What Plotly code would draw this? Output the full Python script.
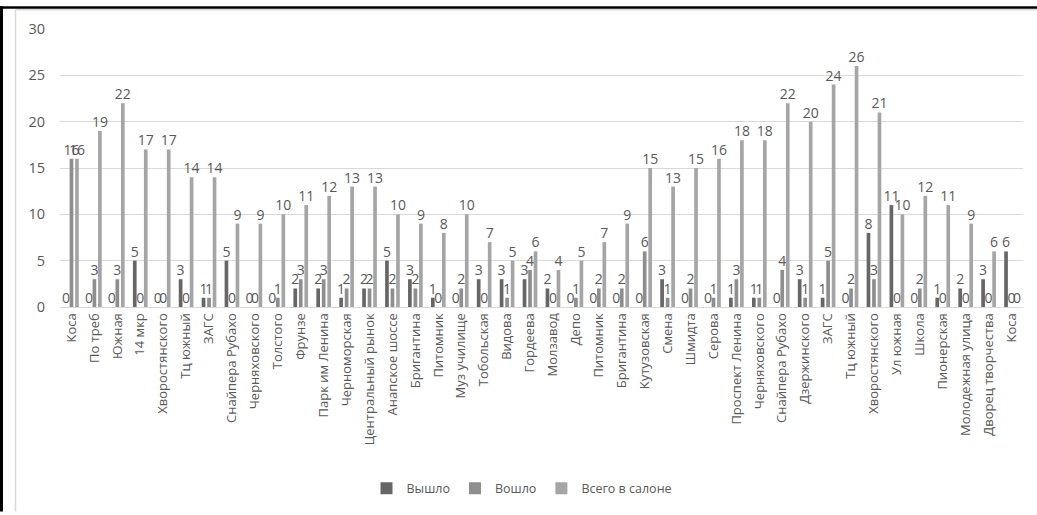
import plotly.graph_objects as go

categories = ["Коса", "По треб", "Южная", "14 мкр", "Хворостянского", "Тц южный", "ЗАГС",
              "Снайпера Рубахо", "Черняховского", "Толстого", "Фрунзе", "Парк им Ленина",
              "Черноморская", "Центральный рынок", "Анапское шоссе", "Бригантина", "Питомник",
              "Муз училище", "Тобольская", "Видова", "Гордеева", "Молзавод", "Депо", "Питомник",
              "Бригантина", "Кутузовская", "Смена", "Шмидта", "Серова", "Проспект Ленина",
              "Черняховского", "Снайпера Рубахо", "Дзержинского", "ЗАГС", "Тц южный",
              "Хворостянского", "Ул южная", "Школа", "Пионерская", "Молодежная улица",
              "Дворец творчества", "Коса"]
vyshlo = [0, 0, 0, 5, 0, 3, 1, 5, 0, 0, 2, 2, 1, 2, 5, 3, 1, 0, 3, 3, 3, 2, 0, 0, 0, 0, 3, 0, 0, 1,
          1, 0, 3, 1, 0, 8, 11, 0, 1, 2, 3, 6]
voshlo = [16, 3, 3, 0, 0, 0, 1, 0, 0, 1, 3, 3, 2, 2, 2, 2, 0, 2, 0, 1, 4, 0, 1, 2, 2, 6, 1, 2, 1, 3,
          1, 4, 1, 5, 2, 3, 0, 2, 0, 0, 0, 0]
vsego = [16, 19, 22, 17, 17, 14, 14, 9, 9, 10, 11, 12, 13, 13, 10, 9, 8, 10, 7, 5, 6, 4, 5, 7, 9, 15,
         13, 15, 16, 18, 18, 22, 20, 24, 26, 21, 10, 12, 11, 9, 6, 0]
series_names = ["Вышло", "Вошло", "Всего в салоне"]
series_colors = ["#666666", "#8e8e8e", "#a5a5a5"]
y_ticks = [0, 5, 10, 15, 20, 25, 30]

x_idx = list(range(len(categories)))
fig = go.Figure()
for name, vals, col in zip(series_names, [vyshlo, voshlo, vsego], series_colors):
    fig.add_trace(go.Bar(
        x=x_idx, y=vals, name=name, marker=dict(color=col, line=dict(width=0)),
        text=[str(v) for v in vals], textposition="outside", constraintext="none",
        cliponaxis=False, textfont=dict(size=14, color="#595959", family="Open Sans"),
    ))

W, H = 1037, 515
L, R, T, B = 60, 14, 29, 206
pw, ph = W - L - R, H - T - B

def px(x):
    return (x - L) / pw

def py(y):
    return (H - B - y) / ph

shapes = [
    dict(type="rect", xref="paper", yref="paper", x0=px(0), x1=px(W), y0=py(8.5), y1=py(6),
         fillcolor="black", line=dict(width=0), layer="above"),
    dict(type="rect", xref="paper", yref="paper", x0=px(0), x1=px(3), y0=py(H), y1=py(6),
         fillcolor="black", line=dict(width=0), layer="above"),
    dict(type="line", xref="paper", yref="paper", x0=px(15.5), x1=px(15.5), y0=py(H), y1=py(9.5),
         line=dict(color="#d9d9d9", width=1.5)),
    dict(type="line", xref="paper", yref="paper", x0=px(15.5), x1=px(W), y0=py(9.5), y1=py(9.5),
         line=dict(color="#d9d9d9", width=1.5)),
]

fig.update_layout(
    width=W, height=H,
    margin=dict(l=L, r=R, t=T, b=B, pad=0),
    paper_bgcolor="white", plot_bgcolor="white",
    barmode="group", bargap=0.28, bargroupgap=0.33,
    font=dict(family="Open Sans", color="#595959"),
    showlegend=True,
    legend=dict(orientation="h", x=px(522), xanchor="center", y=py(492), yanchor="middle",
                font=dict(size=12.5, color="#595959"), traceorder="normal", itemwidth=30),
    shapes=shapes,
    xaxis=dict(tickmode="array", tickvals=x_idx, ticktext=categories, tickangle=-90,
               range=[-0.5, len(categories) - 0.5], showgrid=False, showline=True,
               linecolor="#d9d9d9", linewidth=1, ticks="", zeroline=False,
               tickfont=dict(size=13, color="#595959")),
    yaxis=dict(range=[0, 30], tickvals=y_ticks, showgrid=True, gridcolor="#d9d9d9",
               gridwidth=1, zeroline=False, showline=False, ticks="",
               tickfont=dict(size=14.5, color="#595959"), ticklabelstandoff=14),
)

fig.write_html("out.html", config={"displayModeBar": False},
               post_script="document.body.style.margin='0';document.body.style.padding='0';"
                           "document.documentElement.style.overflow='hidden';")
